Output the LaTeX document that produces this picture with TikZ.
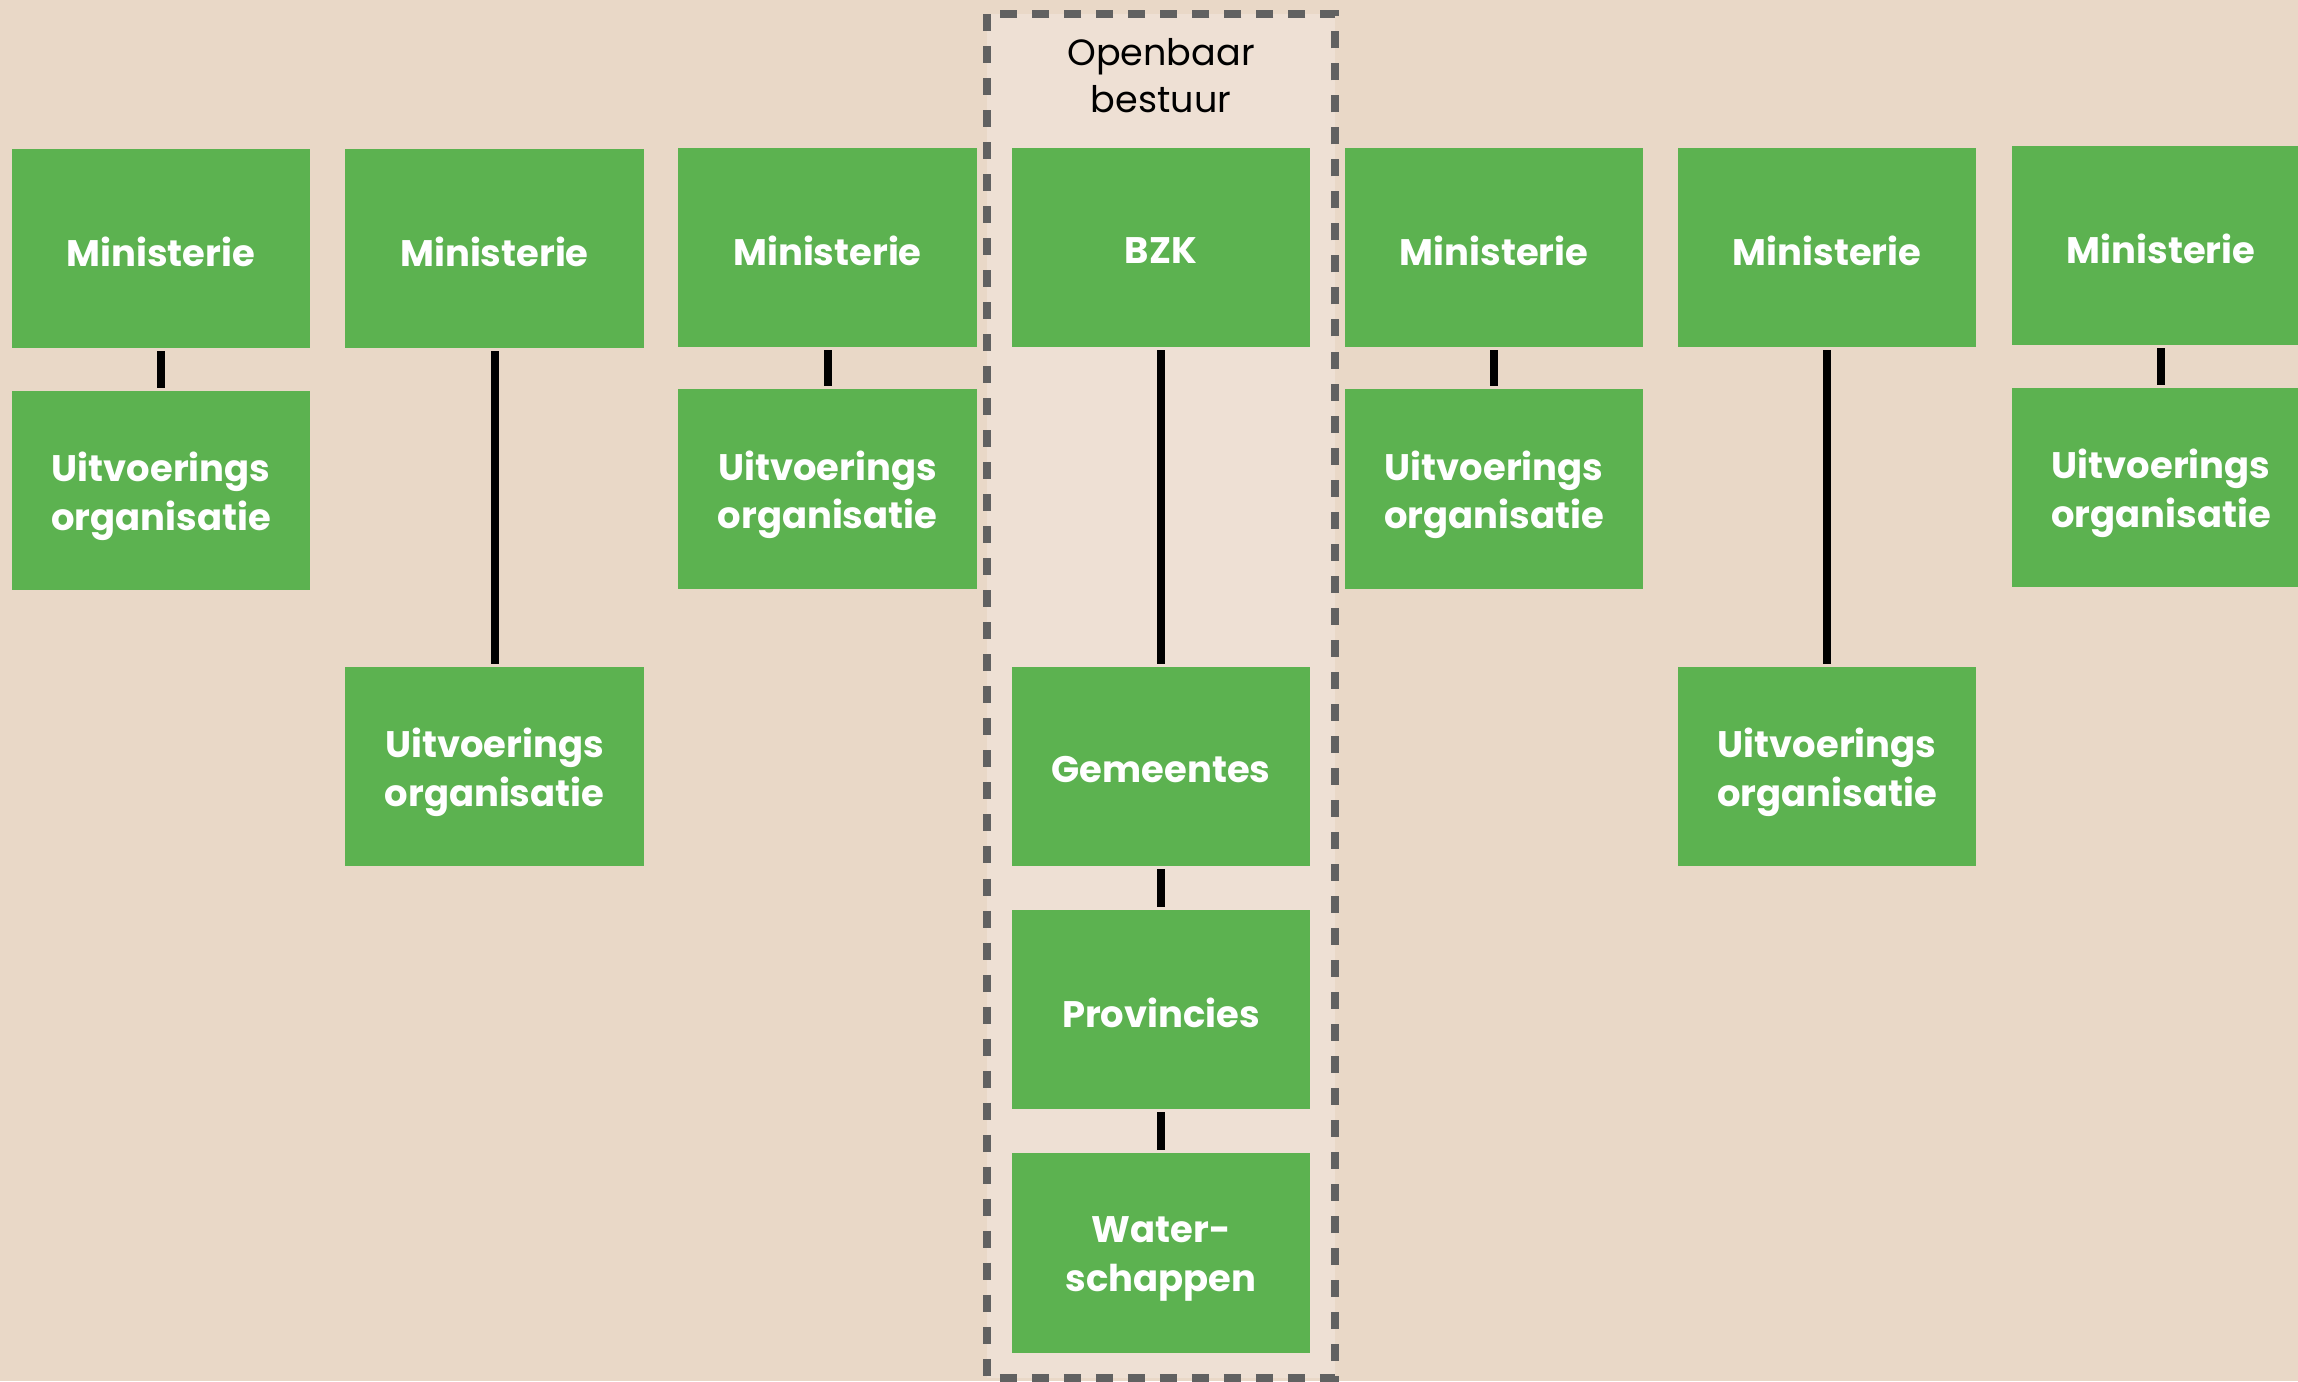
\documentclass[tikz,border=0pt]{standalone}
\usepackage{fontspec}
\setmainfont{Poppins}
\definecolor{bg}{RGB}{233,216,199}
\definecolor{inner}{RGB}{238,224,212}
\definecolor{grn}{RGB}{92,178,80}
\definecolor{dashc}{RGB}{97,97,97}
\begin{document}
\begin{tikzpicture}[x=0.01cm,y=-0.01cm,
  box/.style={rectangle, fill=grn, minimum width=2.98cm, minimum height=1.99cm, inner sep=0pt},
  txt/.style={text=white, inner sep=0pt, align=center, yshift=-0.03cm,
    font=\fontsize{10.5}{13.8}\selectfont\bfseries},
  txtii/.style={txt, yshift=-0.03cm},
  conn/.style={line width=0.08cm, black, shorten <=0.025cm, shorten >=0.025cm}]
\fill[bg] (0,0) rectangle (2298,1381);
\useasboundingbox (0,0) rectangle (2298,1381);
\clip (0,0) rectangle (2298,1381);
% public administration area
\fill[inner] (987,14) rectangle (1335,1378);
\draw[dashc, line width=0.08cm, dash pattern=on 0.17cm off 0.15cm] (987,14) rectangle (1335,1378);
\node[align=center, font=\fontsize{10.4}{13.4}\selectfont] (ob) at (1161,76) {Openbaar\\bestuur};
% columns
\node[box, label={[txt]center:Ministerie}] (m1) at (161,248.5) {};
\node[box, label={[txtii]center:Uitvoerings\\organisatie}] (u1) at (161,490.5) {};
\node[box, label={[txt]center:Ministerie}] (m2) at (494.5,248.5) {};
\node[box, label={[txtii]center:Uitvoerings\\organisatie}] (u2) at (494.5,766.5) {};
\node[box, label={[txt]center:Ministerie}] (m3) at (827.5,247.5) {};
\node[box, label={[txtii]center:Uitvoerings\\organisatie}] (u3) at (827.5,489) {};
\node[box, label={[txt]center:BZK}] (bzk) at (1161,247.5) {};
\node[box, label={[txt]center:Gemeentes}] (gem) at (1161,766.5) {};
\node[box, label={[txt]center:Provincies}] (prov) at (1161,1009.5) {};
\node[box, label={[txtii]center:Water-\\schappen}] (ws) at (1161,1253) {};
\node[box, label={[txt]center:Ministerie}] (m5) at (1494,247.5) {};
\node[box, label={[txtii]center:Uitvoerings\\organisatie}] (u5) at (1494,489) {};
\node[box, label={[txt]center:Ministerie}] (m6) at (1827,247.5) {};
\node[box, label={[txtii]center:Uitvoerings\\organisatie}] (u6) at (1827,766.5) {};
\node[box, label={[txt]center:Ministerie}] (m7) at (2161,245.5) {};
\node[box, label={[txtii]center:Uitvoerings\\organisatie}] (u7) at (2161,487.5) {};
% connectors
\draw[conn] (m1) -- (u1);
\draw[conn] (m2) -- (u2);
\draw[conn] (m3) -- (u3);
\draw[conn] (bzk) -- (gem);
\draw[conn] (gem) -- (prov);
\draw[conn] (prov) -- (ws);
\draw[conn] (m5) -- (u5);
\draw[conn] (m6) -- (u6);
\draw[conn] (m7) -- (u7);
\end{tikzpicture}
\end{document}
